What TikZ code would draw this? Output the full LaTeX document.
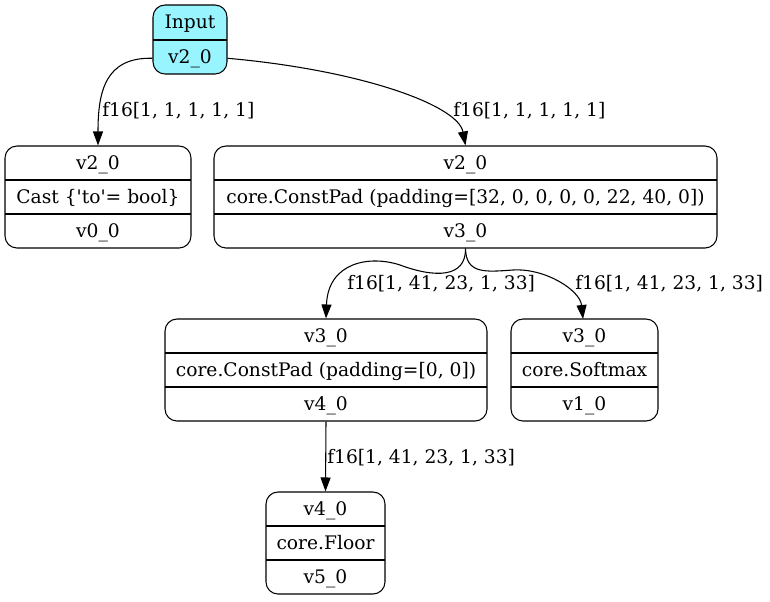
\documentclass[tikz,border=0pt]{standalone}
\usepackage{fontspec}
\setmainfont{DejaVu Serif}
\usetikzlibrary{arrows.meta,fit}
\definecolor{inputcyan}{RGB}{152,245,255}

% Three-row record: name, left, right, top, then the three texts
\newcommand\opblock[7]{%
  \node[recbox, fit={(#2,#4) (#3,#4+102)}] (#1) {};
  \draw[sep] (#2,#4+34) -- (#3,#4+34);
  \draw[sep] (#2,#4+68) -- (#3,#4+68);
  \node[txt] (#1-a) at ({(#2+#3)/2},#4+23) {#5};
  \node[txt] (#1-b) at ({(#2+#3)/2},#4+57) {#6};
  \node[txt] (#1-c) at ({(#2+#3)/2},#4+91) {#7};
}

\begin{document}
\begin{tikzpicture}[x=0.75pt,y=-0.75pt,
  recbox/.style={draw, line width=0.8pt, rounded corners=9pt, inner sep=0pt},
  sep/.style={line width=0.8pt},
  txt/.style={inner sep=0pt, anchor=base},
  elabel/.style={inner sep=0pt, anchor=base west},
  flow/.style={line width=0.8pt, -{Triangle[length=10.5pt,width=7.5pt]}}]
\useasboundingbox (0,0) rectangle (770,601);
\tikzset{every node/.append style={font=\fontsize{14}{16}\selectfont}}

% input record
\node[recbox, fill=inputcyan, fit={(153,5) (227,74)}] (in) {};
\draw[sep] (153,40) -- (227,40);
\node[txt] (in-a) at (190,28) {Input};
\node[txt] (in-b) at (190,63) {v2\_0};

% operator records
\opblock{cast}{5}{191}{146}{v2\_0}{Cast \{\textquotesingle to\textquotesingle= bool\}}{v0\_0}
\opblock{padA}{214}{717}{146}{v2\_0}{core.ConstPad (padding=[32, 0, 0, 0, 0, 22, 40, 0])}{v3\_0}
\opblock{padB}{165}{487}{319}{v3\_0}{core.ConstPad (padding=[0, 0])}{v4\_0}
\opblock{soft}{511}{658}{319}{v3\_0}{core.Softmax}{v1\_0}
\opblock{floor}{266}{385}{492}{v4\_0}{core.Floor}{v5\_0}

% connectors
\draw[flow] (in.west |- in-b) .. controls (105,57) and (98,92) .. (cast.north);
\draw[flow] (in.east |- in-b) .. controls (360,70) and (458,105) .. (padA.north);
\draw[flow] (padA.south) .. controls (466,278) and (435,278) .. (400,265)
  .. controls (370,255) and (328,262) .. (padB.north);
\draw[flow] (padA.south) .. controls (466,274) and (485,272) .. (513,270)
  .. controls (545,268) and (580,290) .. (583,319);
\draw[flow] (padB.south) -- (floor.north);

% edge labels
\node[elabel] (l1) at (102,116) {f16[1, 1, 1, 1, 1]};
\node[elabel] (l2) at (453,116) {f16[1, 1, 1, 1, 1]};
\node[elabel] (l3) at (347,289) {f16[1, 41, 23, 1, 33]};
\node[elabel] (l4) at (575,289) {f16[1, 41, 23, 1, 33]};
\node[elabel] (l5) at (327,463) {f16[1, 41, 23, 1, 33]};
\end{tikzpicture}
\end{document}
